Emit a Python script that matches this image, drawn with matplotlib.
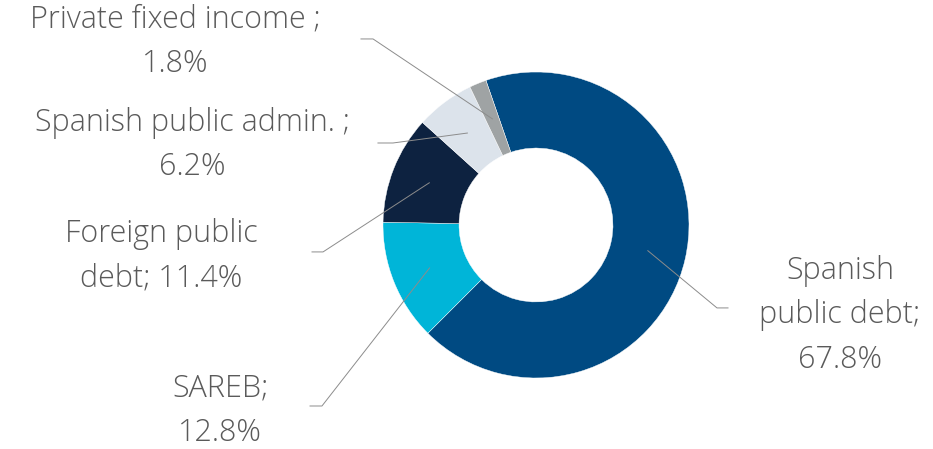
import numpy as np
import matplotlib.pyplot as plt

# portfolio breakdown (%), drawn clockwise from the top-left
labels = ["Spanish\npublic debt;\n67.8%", "SAREB;\n12.8%", "Foreign public\ndebt; 11.4%",
          "Spanish public admin. ;\n6.2%", "Private fixed income ;\n1.8%"]
shares = [67.8, 12.8, 11.4, 6.2, 1.8]
colors = ["#004A82", "#00B5D8", "#0D2240", "#DCE3EB", "#9FA3A4"]

# label placement: text centre, leader elbow, leader end (radius units)
text_pos = [(1.987, -0.59), (-2.065, -1.216), (-2.45, -0.203), (-2.247, 0.523), (-2.36, 1.196)]
elbow = [(1.183, -0.542), (-1.399, -1.183), (-1.392, -0.176), (-0.935, 0.536), (-1.065, 1.216)]
tail = [(1.255, -0.542), (-1.477, -1.183), (-1.464, -0.176), (-1.033, 0.536), (-1.144, 1.216)]

fig = plt.figure(figsize=(9.33, 4.49), dpi=100)
ax = fig.add_axes([0, 0, 1, 1])

wedges, _ = ax.pie(shares, colors=colors, startangle=109.1, counterclock=False,
                   radius=1.0, wedgeprops=dict(width=0.497, edgecolor="white", linewidth=0.3))

for w, lab, tp, el, tl in zip(wedges, labels, text_pos, elbow, tail):
    mid = np.deg2rad((w.theta1 + w.theta2) / 2)
    ax.plot([0.75 * np.cos(mid), el[0], tl[0]], [0.75 * np.sin(mid), el[1], tl[1]],
            color="#8c8c8c", lw=0.7, zorder=3)
    ax.text(tp[0], tp[1], lab, ha="center", va="center", fontsize=22,
            family="Open Sans", fontweight="light", color="#5a5a5a", linespacing=1.53)

ax.set_xlim(-536 / 153, (933 - 536) / 153)
ax.set_ylim(-(449 - 225) / 153, 225 / 153)
ax.set_aspect("equal")
ax.axis("off")

fig.savefig("out.png", dpi=100)
